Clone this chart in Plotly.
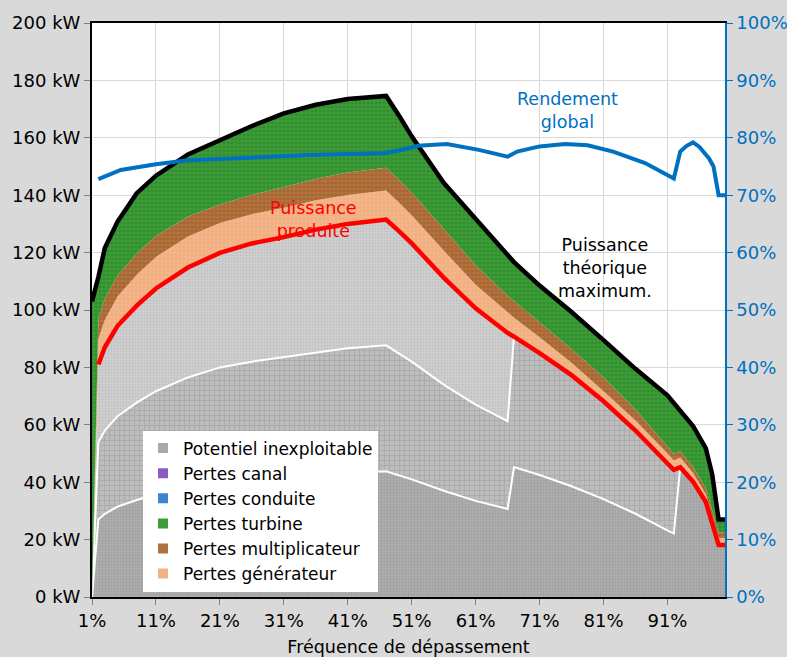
import plotly.graph_objects as go

# ---------------- data ----------------
freq = [1, 2, 3, 5, 8, 11, 16, 21, 26, 31, 36, 41, 47, 49, 51, 56, 61, 66, 67, 71,
        76, 81, 86, 91, 92, 93, 95, 97, 98, 99, 100]
puissance_produite = [0, 81, 87, 94.5, 101.5, 107.5, 114.8, 119.9, 123.2, 125.4, 128, 130,
                      131.5, 127.5, 123.2, 111.3, 100.6, 92, 90.7, 85, 77.3, 68.2, 58, 46.5,
                      44.3, 45.2, 40.2, 33.1, 25.9, 18.1, 18.1]
pertes_generateur = [0, 9, 9.5, 10.2, 10.8, 11, 10.8, 10.4, 10.2, 10.2, 10.2, 10.1, 10.1, 10,
                     9.8, 9.4, 8.2, 7, 6.6, 5.5, 4.3, 3.5, 3.5, 3.5, 3.3, 3.4, 3.0, 2.7, 2.6,
                     2.5, 2.5]
pertes_multiplicateur = [0, 7, 7.5, 7.3, 7.4, 7.3, 7, 6.5, 6.8, 7.2, 7.5, 7.8, 8, 8, 7.9, 7.7,
                         6.8, 6, 5.8, 5.2, 4.8, 4.8, 3.8, 2.5, 2.3, 2.3, 2.2, 2.1, 2.0, 2.0, 2.0]
puissance_theorique = [103, 111.5, 121.6, 130.8, 140.7, 146.8, 154.2, 159.2, 164.1, 168.5,
                       171.5, 173.5, 174.6, 167.8, 160.5, 144.3, 131.5, 119, 116.7, 108.5,
                       99.3, 89.5, 79.5, 70.3, 67.7, 65.1, 59.6, 51.8, 42.7, 27, 27]
# white boundaries inside the grey "potentiel inexploitable" zone
limite_zone1 = [0, 27, 29, 31.5, 33.8, 35.8, 38.3, 40, 41, 41.8, 42.7, 43.3, 43.8, 42.5, 41,
                37, 33.5, 30.7, 45.3, 42.5, 38.6, 34.1, 29, 23.2, 22.1, 45.2, 40.2, 33.1,
                25.9, 18.1, 18.1]
limite_zone2 = [0, 54, 58, 63, 67.7, 71.7, 76.5, 80, 82, 83.6, 85.3, 86.7, 87.7, 85, 82, 74,
                67, 61.3, 90.7, 85, 77.3, 68.2, 58, 46.5, 44.3, 45.2, 40.2, 33.1, 25.9, 18.1,
                18.1]

freq_rendement = [2, 5.5, 11, 16, 25, 35, 46.5, 49, 52, 56.5, 61.5, 66, 67.5, 71, 75, 78.5,
                  82.5, 87.5, 92, 93, 94, 95, 96, 97.5, 98.2, 99, 100]
rendement_global = [72.8, 74.4, 75.4, 76.1, 76.5, 77.0, 77.3, 77.8, 78.6, 78.9, 77.9, 76.7,
                    77.6, 78.5, 78.9, 78.7, 77.6, 75.6, 72.9, 77.6, 78.6, 79.2, 78.4, 76.4,
                    75.0, 70.0, 70.0]

x_ticks = [1, 11, 21, 31, 41, 51, 61, 71, 81, 91]
x_tick_labels = ["1%", "11%", "21%", "31%", "41%", "51%", "61%", "71%", "81%", "91%"]

legend_names = ["Potentiel inexploitable", "Pertes canal", "Pertes conduite",
                "Pertes turbine", "Pertes multiplicateur", "Pertes générateur"]
legend_colors = ["#a9a9a9", "#8a5cc0", "#3d86cf", "#3c9c3c", "#b07240", "#f4b183"]

# ---------------- derived stacks ----------------
haut_generateur = [p + g for p, g in zip(puissance_produite, pertes_generateur)]
haut_multiplicateur = [h + m for h, m in zip(haut_generateur, pertes_multiplicateur)]

BLUE = "#0070c0"
FONT = "DejaVu Sans, Liberation Sans, Arial, sans-serif"
fig = go.Figure()


def area(y, fill, bg, fg, shape, size, sol, line_color=None, line_w=0):
    fig.add_trace(go.Scatter(
        x=freq, y=y, mode="lines", fill=fill,
        line=dict(color=line_color or "rgba(0,0,0,0)", width=line_w),
        fillcolor=bg,
        fillpattern=dict(shape=shape, bgcolor=bg, fgcolor=fg, size=size, solidity=sol),
        showlegend=False, hoverinfo="skip"))


area(limite_zone1, "tozeroy", "#aeaeae", "#888888", "+", 3, 0.3, "white", 2)
area(limite_zone2, "tonexty", "#bdbdbd", "#9a9a9a", "+", 5, 0.35, "white", 2)
area(puissance_produite, "tonexty", "#cfcfcf", "#a4a4a4", "+", 3, 0.25)
area(haut_generateur, "tonexty", "#f2ae7e", "#f8cfae", "+", 4, 0.3)
area(haut_multiplicateur, "tonexty", "#a6642f", "#d09666", "+", 4, 0.35)
area(puissance_theorique, "tonexty", "#2f902b", "#6cba66", "+", 4, 0.3)

fig.add_trace(go.Scatter(x=freq[1:], y=puissance_produite[1:], mode="lines",
                         line=dict(color="#ff0000", width=4.5), showlegend=False,
                         hoverinfo="skip"))
fig.add_trace(go.Scatter(x=freq, y=puissance_theorique, mode="lines",
                         line=dict(color="black", width=4.5), showlegend=False,
                         hoverinfo="skip"))
fig.add_trace(go.Scatter(x=freq_rendement, y=rendement_global, mode="lines", yaxis="y2",
                         line=dict(color=BLUE, width=4), showlegend=False,
                         hoverinfo="skip"))

for i, (nm, col) in enumerate(zip(legend_names, legend_colors)):
    fig.add_trace(go.Scatter(x=[None], y=[None], mode="markers", name=nm,
                             marker=dict(symbol="square", size=10, color=col),
                             legendrank=i + 1, showlegend=True))

fig.add_annotation(x=75.4, y=169.5, xref="x", yref="y", text="Rendement<br>global",
                   showarrow=False, font=dict(size=17.5, color=BLUE), align="center")
fig.add_annotation(x=35.6, y=131.4, xref="x", yref="y", text="Puissance<br>produite",
                   showarrow=False, font=dict(size=17.5, color="#ff0000"), align="center")
fig.add_annotation(x=81.2, y=114.5, xref="x", yref="y",
                   text="Puissance<br>théorique<br>maximum.",
                   showarrow=False, font=dict(size=17.5, color="black"), align="center")

fig.update_layout(
    width=787, height=657,
    margin=dict(l=92, r=62, t=23, b=60),
    paper_bgcolor="#d9d9d9", plot_bgcolor="white",
    font=dict(family=FONT, size=18, color="black"),
    legend=dict(x=0.0806, y=0.29, xanchor="left", yanchor="top", bgcolor="white",
                borderwidth=0, font=dict(size=17), tracegroupgap=0,
                traceorder="normal"),
    xaxis=dict(range=[1, 100], tickvals=x_ticks, ticktext=x_tick_labels,
               showgrid=True, gridcolor="#d9d9d9", gridwidth=1,
               ticks="outside", ticklen=6, tickcolor="#808080",
               showline=True, linecolor="black", linewidth=2, mirror=True,
               zeroline=False, automargin=False,
               title=dict(text="Fréquence de dépassement", standoff=12,
                          font=dict(size=17.5))),
    yaxis=dict(range=[0, 200], dtick=20, ticksuffix=" kW",
               showgrid=True, gridcolor="#d9d9d9", gridwidth=1,
               ticks="outside", ticklen=6, tickcolor="#808080",
               showline=True, linecolor="black", linewidth=2,
               zeroline=False, automargin=False),
    yaxis2=dict(range=[0, 100], dtick=10, ticksuffix="%", overlaying="y", side="right",
                showgrid=False, tickfont=dict(color=BLUE),
                ticks="outside", ticklen=6, tickcolor=BLUE,
                showline=True, linecolor=BLUE, linewidth=1.5,
                zeroline=False, automargin=False),
)

fig.write_html("out.html")
